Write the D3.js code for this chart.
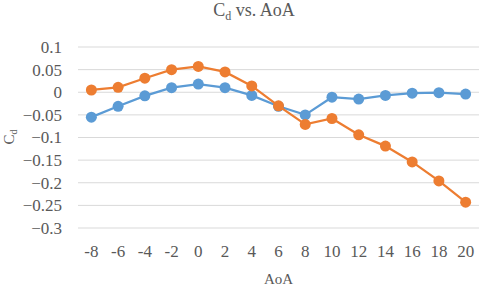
<!DOCTYPE html>
<html>
<head>
<meta charset="utf-8">
<script src="https://d3js.org/d3.v7.min.js"></script>
<style>
  body { margin: 0; background: #fff; }
  text { font-family: "Liberation Serif", "Times New Roman", serif; fill: #595959; }
</style>
</head>
<body>
<div id="graph"></div>
<script>
// data
var aoa = [-8, -6, -4, -2, 0, 2, 4, 6, 8, 10, 12, 14, 16, 18, 20];
var cdBlue = [-0.055, -0.031, -0.008, 0.01, 0.018, 0.01, -0.007, -0.031, -0.05, -0.011, -0.015, -0.007, -0.002, -0.001, -0.004];
var cdOrange = [0.005, 0.011, 0.031, 0.05, 0.057, 0.045, 0.014, -0.03, -0.071, -0.058, -0.094, -0.119, -0.154, -0.196, -0.243];
var yTicks = [0.1, 0.05, 0, -0.05, -0.1, -0.15, -0.2, -0.25, -0.3];

var W = 480, H = 286;
var margin = {top: 47, right: 1, bottom: 58, left: 78};
var width = W - margin.left - margin.right,
    height = H - margin.top - margin.bottom;

var svg = d3.select("#graph").append("svg")
    .attr("width", W).attr("height", H);

var g = svg.append("g")
    .attr("transform", "translate(" + margin.left + "," + margin.top + ")");

var x = d3.scaleBand().domain(aoa).range([0, width]);
var y = d3.scaleLinear().domain([-0.3, 0.1]).range([height, 0]);

// gridlines
g.selectAll(".grid").data(yTicks).enter().append("line")
    .attr("x1", 0).attr("x2", width)
    .attr("y1", function(d) { return y(d); })
    .attr("y2", function(d) { return y(d); })
    .attr("stroke", "#d9d9d9").attr("stroke-width", 1);

// y axis labels
var yAxis = g.append("g")
    .call(d3.axisLeft(y).tickValues(yTicks).tickSize(0).tickPadding(16)
      .tickFormat(function(d) { return d3.format("")(+d.toFixed(2)); }));
yAxis.select(".domain").remove();
yAxis.selectAll("text").attr("font-size", "17px").attr("fill", "#595959")
    .attr("font-family", "Liberation Serif");

// x axis labels
var xAxis = g.append("g")
    .attr("transform", "translate(0," + height + ")")
    .call(d3.axisBottom(x).tickSize(0).tickPadding(17));
xAxis.select(".domain").remove();
xAxis.selectAll("text").attr("font-size", "17px").attr("fill", "#595959")
    .attr("font-family", "Liberation Serif");

var series = [
  {vals: cdBlue, color: "#5b9bd5"},
  {vals: cdOrange, color: "#ed7d31"}
];

var line = d3.line()
  .x(function(d, i) { return x(aoa[i]) + x.bandwidth() / 2; })
  .y(function(d) { return y(d); });

series.forEach(function(s) {
  g.append("path").datum(s.vals)
    .attr("fill", "none").attr("stroke", s.color).attr("stroke-width", 2.25)
    .attr("d", line);
  g.selectAll(null).data(s.vals).enter().append("circle")
    .attr("cx", function(d, i) { return x(aoa[i]) + x.bandwidth() / 2; })
    .attr("cy", function(d) { return y(d); })
    .attr("r", 5.5)
    .attr("fill", s.color);
});

// title
var title = svg.append("text")
    .attr("x", 254).attr("y", 16)
    .attr("text-anchor", "middle")
    .attr("font-size", "18px");
title.append("tspan").text("C");
title.append("tspan").attr("font-size", "12px").attr("dy", 4).text("d");
title.append("tspan").attr("dy", -4).text(" vs. AoA");

// x axis title
svg.append("text")
    .attr("x", margin.left + width / 2).attr("y", 284)
    .attr("text-anchor", "middle")
    .attr("font-size", "15px")
    .text("AoA");

// y axis title
var yt = svg.append("text")
    .attr("transform", "translate(14,137) rotate(-90)")
    .attr("text-anchor", "middle")
    .attr("font-size", "15px");
yt.append("tspan").text("C");
yt.append("tspan").attr("font-size", "10px").attr("dy", 3).text("d");
</script>
</body>
</html>
